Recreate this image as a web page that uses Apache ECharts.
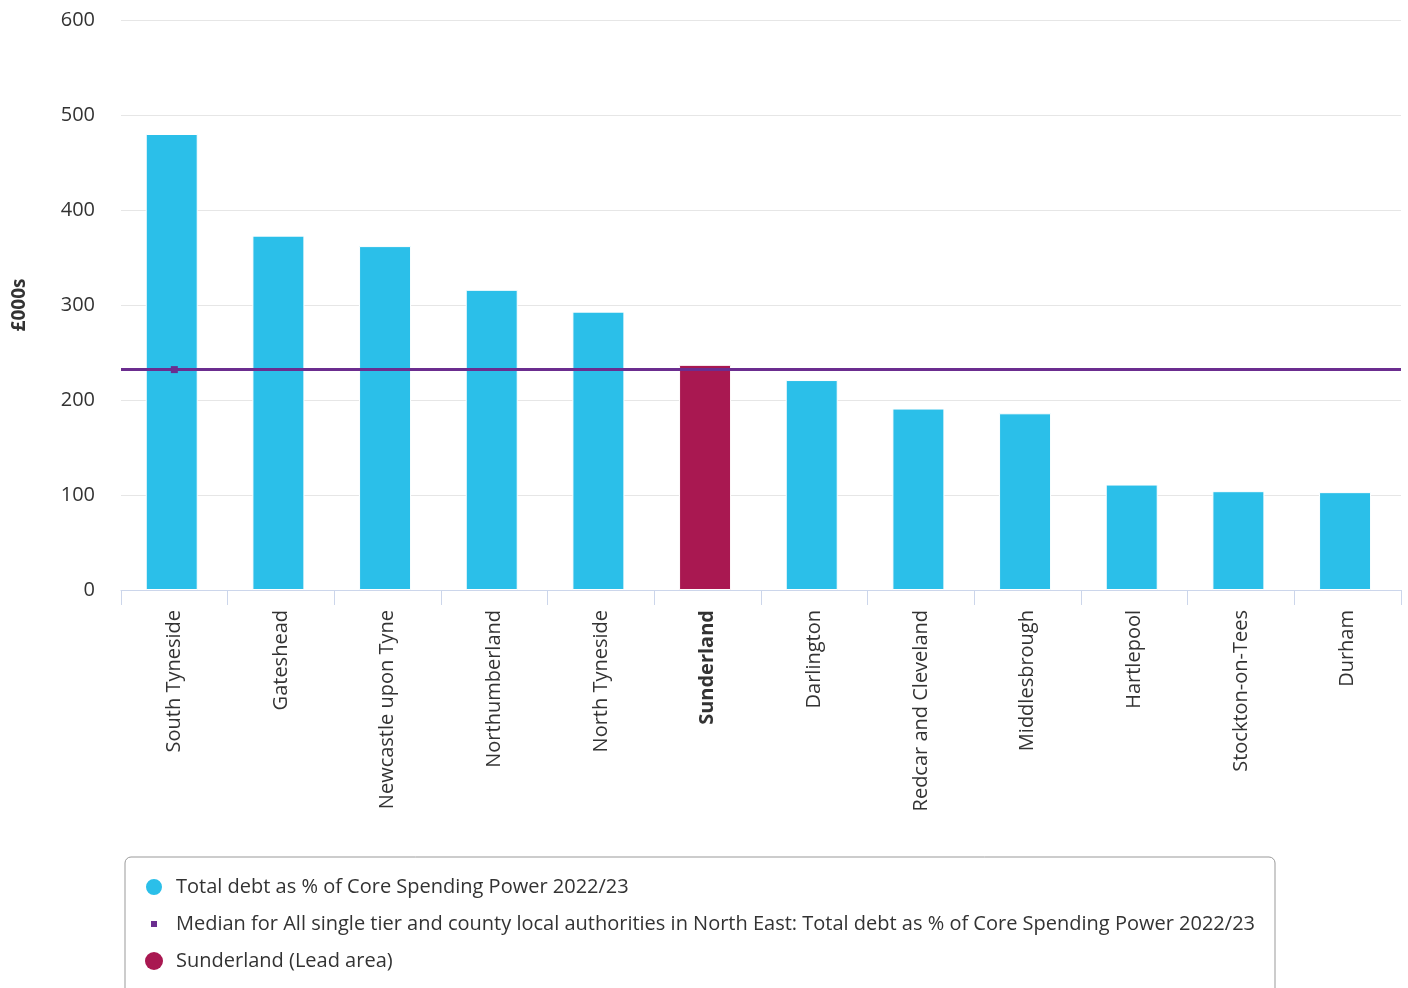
<!DOCTYPE html>
<html>
<head>
<meta charset="utf-8">
<script src="https://cdn.jsdelivr.net/npm/echarts@6/dist/echarts.min.js"></script>
<style>html,body{margin:0;padding:0;background:#fff}#c{width:1408px;height:988px}</style>
</head>
<body>
<div id="c"></div>
<script>
const categories = ["South Tyneside","Gateshead","Newcastle upon Tyne","Northumberland","North Tyneside","Sunderland","Darlington","Redcar and Cleveland","Middlesbrough","Hartlepool","Stockton-on-Tees","Durham"];
const debtValues = [480, 373, 362, 316, 293, 237, 221, 191, 186, 111, 104, 103];
const leadArea = "Sunderland";
const medianValue = 232;
const yTicks = [0, 100, 200, 300, 400, 500, 600];

const seriesName = "Total debt as % of Core Spending Power 2022/23";
const medianName = "Median for All single tier and county local authorities in North East: Total debt as % of Core Spending Power 2022/23";
const leadName = "Sunderland (Lead area)";
const cyan = "#2bbfe9", lead = "#a91851", purple = "#6b2d8f";

const chart = echarts.init(document.getElementById('c'));
chart.setOption({
  animation: false,
  textStyle: { fontFamily: "Open Sans" },
  grid: { left: 121, right: 7, top: 20, bottom: 398, containLabel: false },
  xAxis: {
    type: 'category',
    data: categories,
    axisLine: { lineStyle: { color: '#ccd6eb', width: 1 } },
    axisTick: { show: true, length: 15, alignWithLabel: false, lineStyle: { color: '#ccd6eb' } },
    axisLabel: {
      rotate: 90, margin: 20, fontSize: 20, color: '#333', interval: 0,
      formatter: v => v === leadArea ? '{b|' + v + '}' : v,
      rich: { b: { fontWeight: 'bold', fontSize: 20, color: '#333', fontFamily: 'Open Sans' } }
    }
  },
  yAxis: {
    type: 'value', min: yTicks[0], max: yTicks[yTicks.length - 1], interval: 100,
    name: '£000s', nameLocation: 'middle', nameGap: 92, nameRotate: 90,
    nameTextStyle: { fontWeight: 'bold', fontSize: 19, color: '#333' },
    axisLabel: { fontSize: 20, color: '#333', margin: 26 },
    axisLine: { show: false }, axisTick: { show: false },
    splitLine: { lineStyle: { color: '#e6e6e6', width: 1 } }
  },
  legend: {
    orient: 'vertical', left: 125, top: 857, height: 140,
    padding: [20, 20, 30, 19], itemGap: 17,
    itemWidth: 18, itemHeight: 18,
    borderColor: '#999', borderWidth: 1, borderRadius: 6,
    textStyle: { fontSize: 20, color: '#333', padding: [0, 0, 0, 8] },
    selectedMode: false,
    data: [
      { name: seriesName, icon: 'circle', itemStyle: { color: cyan } },
      { name: medianName, icon: 'path://M0,0M18,18M6,6L12,6L12,12L6,12Z', itemStyle: { color: purple } },
      { name: leadName, icon: 'circle', itemStyle: { color: lead } }
    ]
  },
  series: [
    {
      name: seriesName, type: 'bar', barWidth: 52,
      itemStyle: { color: cyan, borderColor: '#fff', borderWidth: 1 },
      data: debtValues.map((v, i) => categories[i] === leadArea ? { value: v, itemStyle: { color: lead } } : v),
      z: 2
    },
    {
      name: medianName, type: 'line', data: [medianValue], symbol: 'rect', symbolSize: 7,
      itemStyle: { color: purple }, lineStyle: { color: purple, width: 3 },
      z: 5,
      markLine: {
        silent: true, symbol: 'none', label: { show: false },
        lineStyle: { color: purple, width: 3, type: 'solid' },
        data: [{ yAxis: medianValue }]
      }
    },
    { name: leadName, type: 'bar', data: [], itemStyle: { color: lead } }
  ]
});
</script>
</body>
</html>
